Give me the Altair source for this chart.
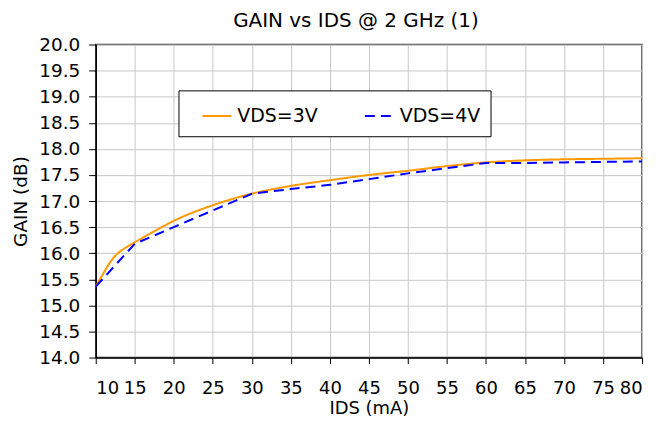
import altair as alt
import pandas as pd

# VDS=3V (smooth curve)
ids_3v = [10, 11, 12, 13, 14, 15, 17.5, 20, 25, 30, 35, 40, 45, 50, 55, 60, 65, 70, 75, 80]
gain_3v = [15.36, 15.62, 15.86, 16.02, 16.12, 16.21, 16.42, 16.62, 16.92, 17.14, 17.29,
           17.40, 17.50, 17.58, 17.67, 17.74, 17.78, 17.80, 17.81, 17.82]
# VDS=4V (straight segments)
ids_4v = [10, 15, 20, 25, 30, 35, 40, 45, 50, 55, 60, 65, 70, 75, 80]
gain_4v = [15.36, 16.18, 16.50, 16.82, 17.14, 17.23, 17.31, 17.42, 17.53, 17.63,
           17.73, 17.73, 17.74, 17.75, 17.76]

series = ["VDS=3V", "VDS=4V"]
x_ticks = list(range(10, 81, 5))
y_ticks = [14 + 0.5 * i for i in range(13)]

df3 = pd.DataFrame({"IDS": ids_3v, "GAIN": gain_3v, "series": series[0]})
df4 = pd.DataFrame({"IDS": ids_4v, "GAIN": gain_4v, "series": series[1]})

FONT = "DejaVu Sans"

x = alt.X("IDS:Q", scale=alt.Scale(domain=[10, 80], nice=False),
          axis=alt.Axis(values=x_ticks, title="IDS (mA)", format="d"))
y = alt.Y("GAIN:Q", scale=alt.Scale(domain=[14, 20], nice=False, zero=False),
          axis=alt.Axis(values=y_ticks, title="GAIN (dB)", format=".1f"))

color = alt.Color("series:N",
                  scale=alt.Scale(domain=series, range=["#FF9900", "#0000FF"]),
                  legend=alt.Legend(orient="none", legendX=83, legendY=46,
                                    direction="horizontal", title=None,
                                    symbolType="stroke", symbolSize=841,
                                    symbolStrokeWidth=2, symbolOffset=13,
                                    labelFontSize=19, labelFont=FONT, labelColor="black",
                                    labelOffset=5, columnPadding=33,
                                    padding=10, strokeColor="black", fillColor="white",
                                    cornerRadius=0))
dash = alt.StrokeDash("series:N",
                      scale=alt.Scale(domain=series, range=[[1, 0], [10, 6]]),
                      legend=None)

l3 = alt.Chart(df3).mark_line(interpolate="monotone", strokeWidth=2).encode(
    x=x, y=y, color=color, strokeDash=dash)
l4 = alt.Chart(df4).mark_line(strokeWidth=2).encode(
    x=x, y=y, color=color, strokeDash=dash)

chart = alt.layer(l3, l4).properties(
    width=548, height=314,
    title=alt.Title("GAIN vs IDS @ 2 GHz (1)", fontSize=20, font=FONT,
                    fontWeight="normal", color="black", offset=5, dx=-13),
    autosize=alt.AutoSizeParams(type="none"),
    padding={"left": 88, "top": 36, "right": 20, "bottom": 62},
).configure_view(stroke="#333", strokeWidth=1.5).configure_axis(
    labelFont=FONT, labelFontSize=18.5, labelColor="black",
    titleFont=FONT, titleFontSize=18.5, titleFontWeight="normal", titleColor="black",
    gridColor="#c8c8c8", gridWidth=1, domainColor="black", tickColor="black",
    domainWidth=1.5,
).configure_axisY(tickSize=7, labelPadding=9, titlePadding=8
).configure_axisX(tickSize=6, labelPadding=16, titlePadding=2, labelFontSize=18,
                  titleFontSize=18)

chart.save("out.html", embed_options={"renderer": "svg", "actions": False})
